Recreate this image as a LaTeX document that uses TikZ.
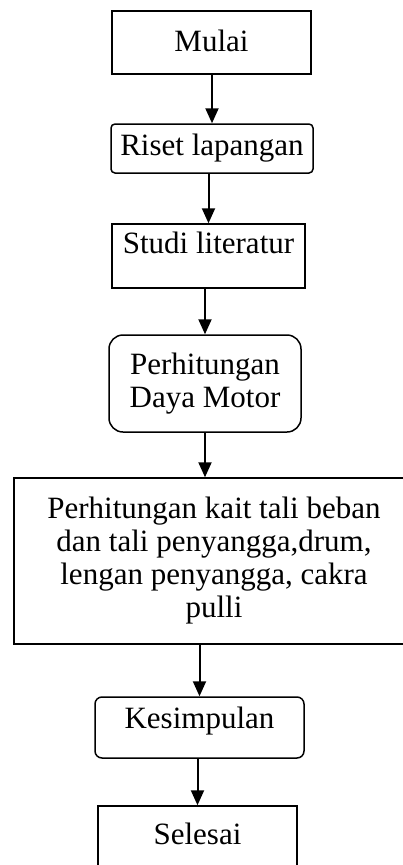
\documentclass[tikz,border=0pt]{standalone}
\usepackage{fontspec}
\setmainfont{Liberation Serif}
\usetikzlibrary{arrows.meta, positioning}

\begin{document}
\begin{tikzpicture}[x=1pt, y=-1pt,
      flowbox/.style={draw, line width=1.5pt, inner sep=0pt,
      font=\fontsize{31pt}{33pt}\selectfont, align=center},
      flowarrow/.style={line width=2pt, -{Triangle[length=15pt, width=13pt]}} ]

    \useasboundingbox (0,0) rectangle (402,865);

    % Boxes
    \node[flowbox, minimum width=199pt, text height=40pt, text depth=23pt]
    (mulai) at (211.5,42.5) {Mulai};
    \node[flowbox, rounded corners=4pt, minimum width=202pt, text height=31pt,
    text depth=18pt] (riset) at (212,148.5) {Riset lapangan};
    \node[flowbox, minimum width=193pt, text height=29pt, text depth=35pt]
    (studi) at (208.5,256) {Studi literatur};
    \node[flowbox, rounded corners=14pt, minimum width=192pt, minimum
    height=97pt] (daya) at (205,383.5) {Perhitungan\\Daya Motor};
    \node[flowbox, minimum width=400pt, minimum height=166pt] (kait) at
    (214,561) {Perhitungan kait tali beban\\dan tali penyangga,drum,\\lengan
    penyangga, cakra\\pulli};
    \node[flowbox, rounded corners=7pt, minimum width=209pt, text height=31pt,
    text depth=30pt] (simpul) at (199.5,727.5) {Kesimpulan};
    \node[flowbox, minimum width=199pt, text height=38pt, text depth=23pt]
    (selesai) at (197.5,836.5) {Selesai};

    % Arrows
    \draw[flowarrow] (riset.north |- mulai.south) -- (riset.north);
    \draw[flowarrow] (studi.north |- riset.south) -- (studi.north);
    \draw[flowarrow] (daya.north |- studi.south) -- (daya.north);
    \draw[flowarrow] (daya.south) -- (daya.south |- kait.north);
    \draw[flowarrow] (simpul.north |- kait.south) -- (simpul.north);
    \draw[flowarrow] (selesai.north |- simpul.south) -- (selesai.north);

\end{tikzpicture}
\end{document}
